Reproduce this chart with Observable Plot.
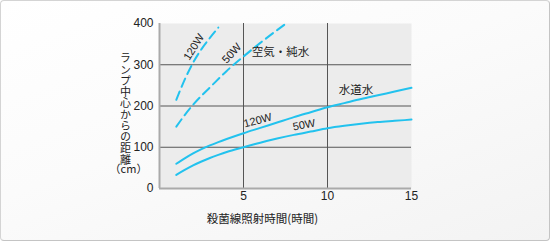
<!DOCTYPE html>
<html>
<head>
<meta charset="utf-8">
<script src="https://cdn.jsdelivr.net/npm/d3@7"></script>
<script src="https://cdn.jsdelivr.net/npm/@observablehq/plot@0.6"></script>
<style>
  html, body { margin: 0; padding: 0; background: #fff; }
  #wrap {
    position: absolute; left: 0; top: 0; width: 550px; height: 241px;
    box-sizing: border-box; border: 1px solid #d4d4d4; border-right-color: #c4c4c4; border-bottom-color: #c4c4c4;
    border-radius: 4px;
    background: linear-gradient(160deg, #ffffff 0%, #fbfbfb 45%, #f3f3f3 100%);
    overflow: hidden;
  }
  #chart { position: absolute; left: 0; top: 0; }
  #chart svg { background: transparent; }
</style>
</head>
<body>
<div id="wrap"></div>
<div id="chart"></div>
<script>
// --- data ---
const tapHours = [1, 1.5, 2, 2.5, 3, 3.5, 4, 5, 6, 7, 8, 9, 10, 11, 12, 13, 14, 15];
const tap120W = [60, 73, 85, 95.5, 104.5, 112.5, 120, 134, 147, 160, 173, 185, 197, 207, 217, 226, 235, 244];
const tap50W  = [33, 45, 56, 65.5, 74, 81.5, 88.5, 100, 111, 121, 130, 138, 146, 152, 157, 161, 164, 167];

const air120Hours = [1, 1.5, 2, 2.5, 3, 3.5];
const air120W     = [215, 264, 305, 338, 365, 390];
const air50Hours  = [1, 1.5, 2, 2.5, 3, 4, 5, 6, 7, 7.5];
const air50W      = [150, 178, 203, 225, 245, 285, 320, 353, 384, 399];

const xTicks = [5, 10, 15];
const yTicks = [0, 100, 200, 300, 400];
const gridX = [5, 10];
const gridY = [100, 200, 300];

const curveLabels = ["120W", "50W", "120W", "50W"];
const curveLabelX = [2.05, 4.3, 5.85, 8.6];
const curveLabelY = [343, 328, 165, 154];
const curveLabelAngle = [-58, -48, -15, -10];

const groupLabels = ["空気・純水", "水道水"];
const groupLabelX = [7.2, 11.7];
const groupLabelY = [330, 237];

const xTitle = "殺菌線照射時間(時間)";
const yTitle = "ランプ中心からの距離";
const yUnit = "（cm）";

// --- build tables ---
const toRows = (xs, ys) => xs.map((x, i) => ({x, y: ys[i]}));
const tap120 = toRows(tapHours, tap120W);
const tap50 = toRows(tapHours, tap50W);
const air120 = toRows(air120Hours, air120W);
const air50 = toRows(air50Hours, air50W);
const curveLabelRows = curveLabels.map((t, i) => ({t, x: curveLabelX[i], y: curveLabelY[i], a: curveLabelAngle[i]}));
const groupLabelRows = groupLabels.map((t, i) => ({t, x: groupLabelX[i], y: groupLabelY[i]}));

const cyan = "#22c2ee";
const font = "'Liberation Sans', 'Noto Sans CJK JP', sans-serif";
const cjk = "'Noto Sans CJK JP', sans-serif";

const chart = Plot.plot({
  width: 550,
  height: 241,
  marginLeft: 159,
  marginRight: 139,
  marginTop: 23,
  marginBottom: 53,
  style: {fontFamily: font, fontSize: "11px", color: "#222", background: "transparent"},
  x: {domain: [0, 15]},
  y: {domain: [0, 400]},
  marks: [
    Plot.frame({fill: "#ececec", stroke: null}),
    Plot.ruleX(gridX, {stroke: "#555", strokeWidth: 1}),
    Plot.ruleY(gridY, {stroke: "#555", strokeWidth: 1}),
    Plot.ruleY([0], {stroke: "#aaa", strokeWidth: 2}),
    Plot.ruleX([0], {stroke: "#aaa", strokeWidth: 2}),
    Plot.axisX(xTicks, {tickSize: 0, tickPadding: 3, label: null, fontSize: 12, fill: "#222"}),
    Plot.axisY(yTicks, {tickSize: 0, tickPadding: 6, label: null, fontSize: 12, fill: "#222"}),
    Plot.line(air120, {x: "x", y: "y", stroke: cyan, strokeWidth: 2, curve: "monotone-x", strokeDasharray: "9,5"}),
    Plot.line(air50, {x: "x", y: "y", stroke: cyan, strokeWidth: 2, curve: "monotone-x", strokeDasharray: "9,5"}),
    Plot.line(tap120, {x: "x", y: "y", stroke: cyan, strokeWidth: 2, curve: "monotone-x"}),
    Plot.line(tap50, {x: "x", y: "y", stroke: cyan, strokeWidth: 2, curve: "monotone-x"}),
    Plot.text(curveLabelRows, {x: "x", y: "y", text: "t", rotate: "a", fontSize: 11, fill: "#222", fontFamily: font}),
    Plot.text(groupLabelRows, {x: "x", y: "y", text: "t", fontSize: 11.5, fill: "#222", fontFamily: cjk}),
    Plot.text([xTitle], {frameAnchor: "bottom", dx: -23, dy: 34, fontSize: 11.5, fill: "#222", fontFamily: cjk}),
    Plot.text([yTitle], {frameAnchor: "left", textAnchor: "middle", lineAnchor: "bottom", dx: -34, dy: 3, fontSize: 11, fill: "#222", fontFamily: cjk}),
    Plot.text([yUnit], {frameAnchor: "bottom-left", textAnchor: "middle", dx: -31, dy: -16, fontSize: 11, fill: "#222", fontFamily: cjk})
  ]
});
// lay the y-axis title out vertically (tategaki)
d3.select(chart).selectAll("text")
  .filter(function () { return this.textContent === yTitle; })
  .attr("dy", null)
  .style("writing-mode", "vertical-rl")
  .style("letter-spacing", "0.25px");
document.getElementById("chart").appendChild(chart);
</script>
</body>
</html>
